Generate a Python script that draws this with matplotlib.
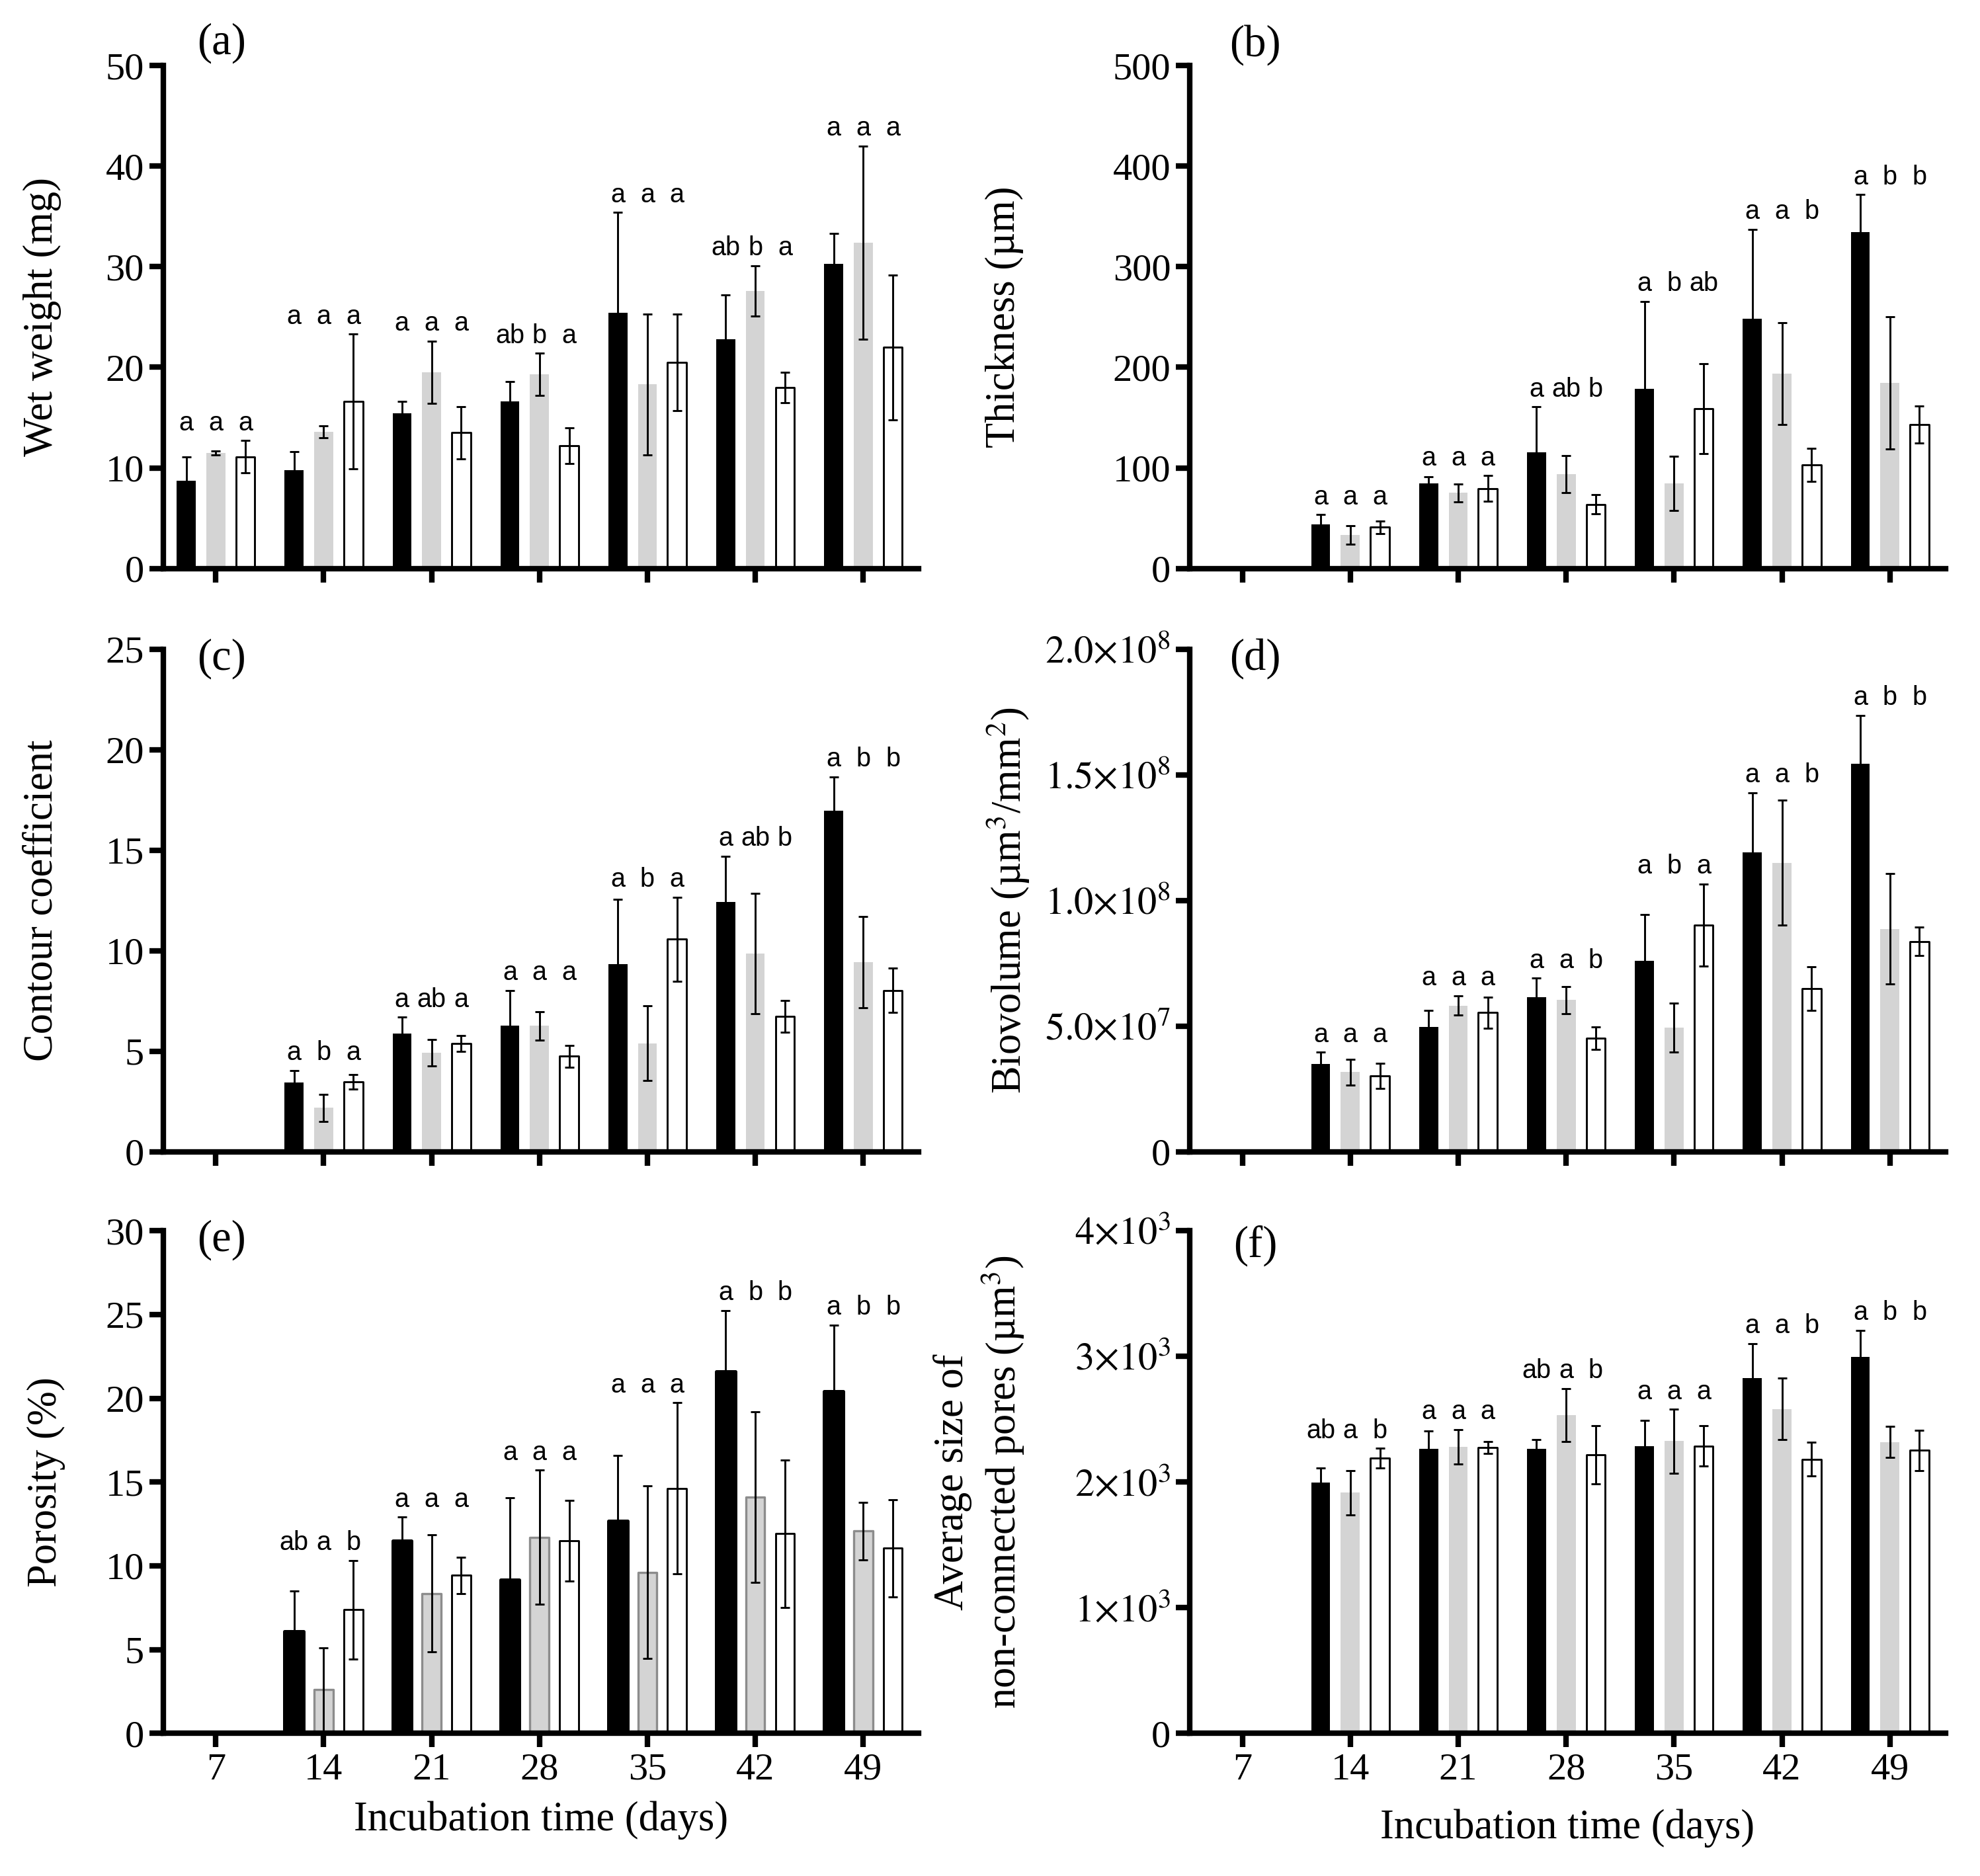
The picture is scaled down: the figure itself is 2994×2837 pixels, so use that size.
import matplotlib.pyplot as plt
import numpy as np

plt.rcParams['font.family'] = ['Liberation Serif', 'DejaVu Serif']
plt.rcParams['mathtext.fontset'] = 'stix'

nan = np.nan
days = [7, 14, 21, 28, 35, 42, 49]

# (a) wet weight (mg)
ww_k = [8.7, 9.8, 15.4, 16.6, 25.4, 22.8, 30.3]
ww_k_sd = [2.4, 1.8, 1.2, 2.0, 10.0, 4.4, 3.0]
ww_g = [11.5, 13.6, 19.5, 19.3, 18.3, 27.6, 32.4]
ww_g_sd = [0.2, 0.6, 3.1, 2.1, 7.0, 2.5, 9.6]
ww_w = [11.1, 16.6, 13.5, 12.2, 20.5, 18.0, 22.0]
ww_w_sd = [1.6, 6.7, 2.6, 1.8, 4.8, 1.5, 7.2]
ww_let = ["a a a", "a a a", "a a a", "ab b a", "a a a", "ab b a", "a a a"]

# (b) thickness (um)
th_k = [nan, 43.5, 84.4, 115.7, 178.4, 248.3, 334.2]
th_k_sd = [nan, 10, 7, 45, 87, 89, 37.5]
th_g = [nan, 33.2, 75.2, 93.6, 84.4, 193.7, 184.5]
th_g_sd = [nan, 9.4, 8.8, 18.5, 27, 50.7, 65.5]
th_w = [nan, 40.9, 79.5, 63.8, 158.9, 103.1, 142.9]
th_w_sd = [nan, 6, 12.8, 9.5, 45, 16.3, 18.3]
th_let = ["", "a a a", "a a a", "a ab b", "a b ab", "a a b", "a b b"]

# (c) contour coefficient
cc_k = [nan, 3.44, 5.89, 6.27, 9.35, 12.44, 16.96]
cc_k_sd = [nan, 0.6, 0.8, 1.76, 3.2, 2.27, 1.68]
cc_g = [nan, 2.19, 4.93, 6.27, 5.40, 9.86, 9.42]
cc_g_sd = [nan, 0.67, 0.65, 0.7, 1.85, 3.0, 2.27]
cc_w = [nan, 3.49, 5.38, 4.76, 10.57, 6.74, 8.03]
cc_w_sd = [nan, 0.36, 0.4, 0.54, 2.1, 0.8, 1.1]
cc_let = ["", "a b a", "a ab a", "a a a", "a b a", "a ab b", "a b b"]

# (d) biovolume (um3/mm2)
bv_k = [nan, 3.50e7, 4.97e7, 6.15e7, 7.60e7, 11.92e7, 15.44e7]
bv_k_sd = [nan, 0.46e7, 0.65e7, 0.76e7, 1.83e7, 2.36e7, 1.93e7]
bv_g = [nan, 3.17e7, 5.82e7, 6.04e7, 4.94e7, 11.50e7, 8.87e7]
bv_g_sd = [nan, 0.52e7, 0.39e7, 0.54e7, 0.98e7, 2.48e7, 2.2e7]
bv_w = [nan, 3.01e7, 5.54e7, 4.53e7, 9.02e7, 6.50e7, 8.37e7]
bv_w_sd = [nan, 0.5e7, 0.62e7, 0.45e7, 1.63e7, 0.87e7, 0.56e7]
bv_let = ["", "a a a", "a a a", "a a b", "a b a", "a a b", "a b b"]

# (e) porosity (%)
po_k = [nan, 6.09, 11.50, 9.15, 12.70, 21.58, 20.41]
po_k_sd = [nan, 2.4, 1.4, 4.9, 3.87, 3.66, 3.97]
po_g = [nan, 2.61, 8.36, 11.71, 9.62, 14.11, 12.07]
po_g_sd = [nan, 2.5, 3.5, 4.0, 5.14, 5.1, 1.72]
po_w = [nan, 7.39, 9.43, 11.50, 14.63, 11.92, 11.05]
po_w_sd = [nan, 2.94, 1.08, 2.4, 5.1, 4.4, 2.9]
po_let = ["", "ab a b", "a a a", "a a a", "a a a", "a b b", "a b b"]

# (f) average size of non-connected pores (um3)
ps_k = [nan, 1998, 2266, 2266, 2287, 2825, 2996]
ps_k_sd = [nan, 115, 142, 73, 201, 278, 212]
ps_g = [nan, 1915, 2280, 2533, 2325, 2582, 2318]
ps_g_sd = [nan, 178, 139, 210, 254, 245, 123]
ps_w = [nan, 2189, 2273, 2217, 2287, 2182, 2252]
ps_w_sd = [nan, 78, 48, 230, 160, 134, 160]
ps_let = ["", "ab a b", "a a a", "ab a b", "a a a", "a a b", "a b b"]

GREY = '#d4d4d4'
off = 1.92   # distance between bars of a group (days)
bw = 1.23    # bar width (days)

fig = plt.figure(figsize=(2994 / 300, 2837 / 300), dpi=300)


def panel(rect, series, letters, yticks, yticklabels, ylabel, ylab_x, tag, tagpos,
          xlabels=False, outlined=False, xlabpad=7.5):
    ax = fig.add_axes(rect)
    x = np.array(days, float)
    ymax = yticks[-1]
    styles = [('black', 'black'), (GREY, '#8c8c8c' if outlined else GREY), ('white', 'black')]
    tops = []
    for j, ((m, sd), (fc, ec)) in enumerate(zip(series, styles)):
        m = np.array(m, float)
        sd = np.array(sd, float)
        lw = 0.7
        if j == 0:
            lw = 1.2 if outlined else 0
        if j == 1:
            lw = 0.8 if outlined else 0
        ax.bar(x + (j - 1) * off, m, bw, color=fc, edgecolor=ec, linewidth=lw,
               joinstyle='round', zorder=2)
        ax.errorbar(x + (j - 1) * off, m, yerr=sd, fmt='none', ecolor='black',
                    elinewidth=0.7, capsize=1.65, capthick=0.7, zorder=3)
        tops.append(m + sd)
    tops = np.array(tops)
    # significance letters above each group
    for i, lab in enumerate(letters):
        if not lab:
            continue
        top = np.nanmax(tops[:, i])
        for j, t in enumerate(lab.split()):
            ax.text(days[i] + (j - 1) * off, top + 0.035 * ymax, t, ha='center', va='center',
                    family=['Liberation Sans', 'DejaVu Sans'], fontsize=9.5)
    ax.set_xlim(3.6, 52.6)
    ax.set_ylim(0, ymax)
    ax.set_yticks(yticks, yticklabels)
    ax.set_xticks(days)
    if xlabels:
        ax.set_xticklabels([str(d) for d in days])
        ax.set_xlabel('Incubation time (days)', fontsize=15, labelpad=xlabpad)
    else:
        ax.set_xticklabels([])
    ax.spines[['top', 'right']].set_visible(False)
    ax.spines[['left', 'bottom']].set_linewidth(2.0)
    ax.tick_params(width=2.0, length=5, labelsize=14, pad=2)
    ax.set_ylabel(ylabel, fontsize=15)
    ax.yaxis.set_label_coords(ylab_x, 0.5)
    fig.text(tagpos[0], tagpos[1], tag, fontsize=16, ha='center', va='center')
    return ax


L, R, W, H = 0.0825, 0.601, 0.3815, 0.268
rows = [0.697, 0.386, 0.076]

panel([L, rows[0], W, H], [(ww_k, ww_k_sd), (ww_g, ww_g_sd), (ww_w, ww_w_sd)], ww_let,
      [0, 10, 20, 30, 40, 50], ['0', '10', '20', '30', '40', '50'],
      'Wet weight (mg)', -0.135, '(a)', (0.112, 0.977))
panel([R, rows[0], W, H], [(th_k, th_k_sd), (th_g, th_g_sd), (th_w, th_w_sd)], th_let,
      [0, 100, 200, 300, 400, 500], ['0', '100', '200', '300', '400', '500'],
      'Thickness (µm)', -0.22, '(b)', (0.634, 0.976))
panel([L, rows[1], W, H], [(cc_k, cc_k_sd), (cc_g, cc_g_sd), (cc_w, cc_w_sd)], cc_let,
      [0, 5, 10, 15, 20, 25], ['0', '5', '10', '15', '20', '25'],
      'Contour coefficient', -0.135, '(c)', (0.112, 0.649))
panel([R, rows[1], W, H], [(bv_k, bv_k_sd), (bv_g, bv_g_sd), (bv_w, bv_w_sd)], bv_let,
      [0, 5e7, 1e8, 1.5e8, 2e8],
      ['0', r'$5.0{\times}10^{7}$', r'$1.0{\times}10^{8}$', r'$1.5{\times}10^{8}$', r'$2.0{\times}10^{8}$'],
      'Biovolume (µm$^{3}$/mm$^{2}$)', -0.21, '(d)', (0.634, 0.649))
panel([L, rows[2], W, H], [(po_k, po_k_sd), (po_g, po_g_sd), (po_w, po_w_sd)], po_let,
      [0, 5, 10, 15, 20, 25, 30], ['0', '5', '10', '15', '20', '25', '30'],
      'Porosity (%)', -0.13, '(e)', (0.112, 0.339), xlabels=True, outlined=True, xlabpad=5)
panel([R, rows[2], W, H], [(ps_k, ps_k_sd), (ps_g, ps_g_sd), (ps_w, ps_w_sd)], ps_let,
      [0, 1000, 2000, 3000, 4000],
      ['0', r'$1{\times}10^{3}$', r'$2{\times}10^{3}$', r'$3{\times}10^{3}$', r'$4{\times}10^{3}$'],
      'Average size of\nnon-connected pores (µm$^{3}$)', -0.217, '(f)', (0.634, 0.336),
      xlabels=True, xlabpad=8)

fig.savefig('out.png', dpi=300)
